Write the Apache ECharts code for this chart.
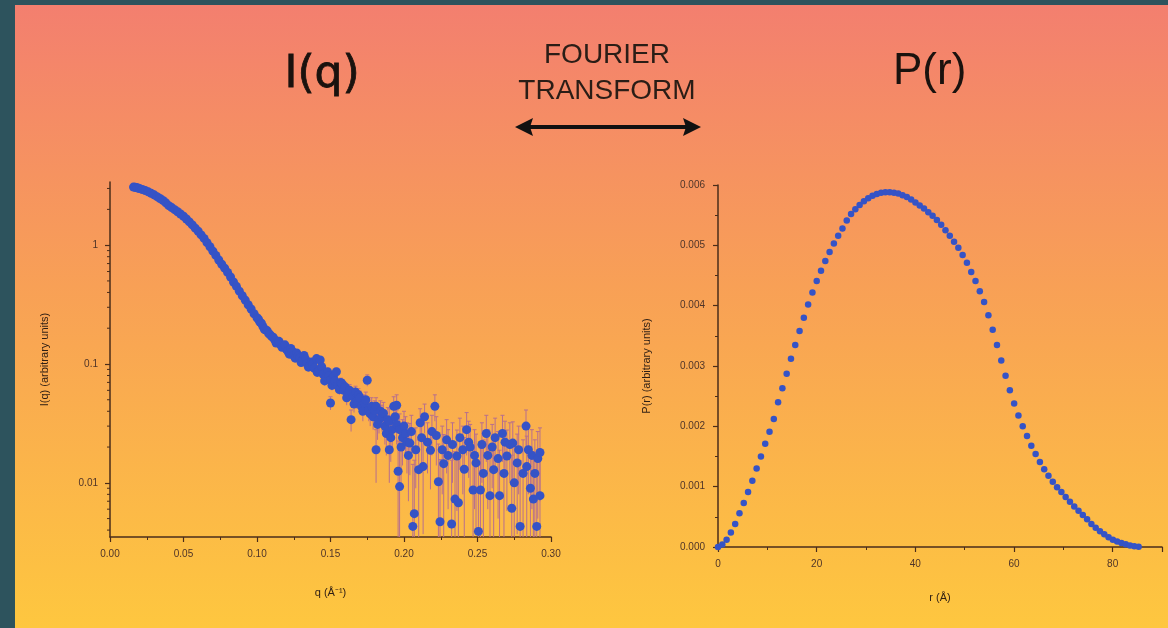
<!DOCTYPE html>
<html>
<head>
<meta charset="utf-8">
<script src="https://cdn.jsdelivr.net/npm/echarts@6/dist/echarts.min.js"></script>
<style>
html,body{margin:0;padding:0;background:#2d535d;}
#chart{width:1168px;height:628px;}
</style>
</head>
<body>
<div id="chart"></div>
<script>
// ---------- DATA ----------
// I(q): smooth low-q part [q, I]
const iqSmooth = [
[0.016,3.08],[0.017,3.07],[0.018,3.05],[0.019,3.03],[0.020,3.00],[0.022,2.94],[0.024,2.88],[0.026,2.81],[0.028,2.73],[0.030,2.65],
[0.032,2.56],[0.034,2.47],[0.036,2.38],[0.038,2.27],[0.040,2.15],[0.042,2.07],[0.044,1.99],[0.046,1.91],
[0.048,1.83],[0.050,1.75],[0.052,1.66],[0.054,1.57],[0.056,1.48],[0.058,1.39],[0.060,1.31],[0.062,1.22],
[0.064,1.14],[0.066,1.05],[0.068,0.97],[0.070,0.89],[0.072,0.82],[0.074,0.75],[0.076,0.69],[0.078,0.64],
[0.080,0.59],[0.082,0.54],[0.084,0.49],[0.086,0.45],[0.088,0.41],[0.090,0.375],[0.092,0.345],[0.094,0.315],
[0.096,0.29],[0.098,0.265],[0.100,0.245],[0.102,0.225],[0.104,0.207],[0.106,0.193],[0.108,0.18],[0.110,0.17],
[0.112,0.16],[0.114,0.152],[0.116,0.146],[0.118,0.14],[0.120,0.133]
];
// I(q): noisy high-q part [q, I, error]
const iqNoisy = [
[0.101,0.238,0.004],[0.103,0.220,0.004],[0.105,0.196,0.004],[0.107,0.190,0.004],[0.109,0.176,0.004],
[0.111,0.168,0.004],[0.113,0.150,0.004],[0.115,0.155,0.004],[0.117,0.138,0.004],[0.119,0.145,0.004],
[0.121,0.128,0.004],[0.122,0.121,0.004],[0.123,0.135,0.004],[0.124,0.128,0.004],[0.125,0.118,0.004],
[0.126,0.112,0.004],[0.127,0.124,0.004],[0.128,0.117,0.004],[0.129,0.112,0.004],[0.130,0.103,0.005],
[0.131,0.108,0.005],[0.132,0.118,0.005],[0.133,0.110,0.005],[0.134,0.101,0.005],[0.135,0.094,0.005],
[0.136,0.096,0.005],[0.137,0.104,0.005],[0.138,0.100,0.005],[0.139,0.092,0.005],[0.1405,0.111,0.005],
[0.141,0.085,0.005],[0.142,0.088,0.005],[0.143,0.108,0.005],[0.144,0.095,0.005],[0.145,0.082,0.005],
[0.146,0.072,0.006],[0.147,0.078,0.006],[0.148,0.086,0.006],[0.149,0.080,0.006],[0.150,0.073,0.006],
[0.150,0.047,0.006],[0.151,0.066,0.006],[0.152,0.078,0.006],[0.153,0.072,0.006],[0.154,0.086,0.006],
[0.155,0.066,0.006],[0.156,0.061,0.006],[0.157,0.070,0.006],[0.158,0.068,0.006],[0.159,0.060,0.006],
[0.160,0.064,0.006],[0.161,0.052,0.007],[0.162,0.056,0.007],[0.163,0.060,0.007],[0.164,0.034,0.007],
[0.1655,0.053,0.007],[0.166,0.046,0.007],[0.167,0.058,0.007],[0.168,0.049,0.007],[0.169,0.055,0.007],
[0.170,0.052,0.007],[0.171,0.044,0.007],[0.172,0.040,0.007],[0.173,0.047,0.008],[0.174,0.050,0.008],
[0.175,0.073,0.008],[0.176,0.041,0.008],[0.177,0.038,0.008],[0.178,0.044,0.008],[0.179,0.036,0.008],
[0.180,0.041,0.008],[0.181,0.044,0.008],[0.181,0.019,0.009],[0.182,0.031,0.008],[0.183,0.034,0.008],
[0.184,0.040,0.009],[0.185,0.036,0.009],[0.186,0.0385,0.009],[0.187,0.030,0.009],[0.188,0.026,0.009],
[0.189,0.034,0.009],[0.190,0.019,0.009],[0.190,0.033,0.009],[0.191,0.024,0.009],[0.192,0.028,0.009],
[0.193,0.044,0.009],[0.194,0.036,0.009],[0.195,0.045,0.010],[0.195,0.031,0.010],[0.196,0.0125,0.010],
[0.197,0.028,0.010],[0.197,0.0093,0.010],[0.198,0.020,0.010],[0.199,0.024,0.010],[0.200,0.030,0.010],
[0.201,0.026,0.010],[0.202,0.022,0.010],[0.203,0.017,0.010],[0.204,0.0216,0.010],[0.205,0.027,0.010],
[0.206,0.0043,0.010],[0.207,0.0055,0.010],[0.208,0.019,0.010],[0.210,0.0129,0.010],[0.211,0.032,0.010],
[0.212,0.024,0.010],[0.213,0.0137,0.010],[0.214,0.036,0.010],[0.216,0.022,0.010],[0.218,0.0188,0.010],
[0.219,0.027,0.010],[0.221,0.044,0.011],[0.222,0.025,0.011],[0.2234,0.0102,0.011],[0.2245,0.0047,0.011],
[0.226,0.019,0.011],[0.227,0.0145,0.011],[0.229,0.023,0.011],[0.230,0.017,0.011],[0.2324,0.0045,0.011],
[0.233,0.021,0.011],[0.2347,0.0073,0.011],[0.236,0.0168,0.011],[0.237,0.0068,0.011],[0.238,0.024,0.011],
[0.240,0.019,0.011],[0.241,0.013,0.011],[0.2426,0.028,0.011],[0.244,0.022,0.011],[0.245,0.020,0.011],
[0.247,0.0087,0.011],[0.248,0.017,0.011],[0.249,0.0147,0.011],[0.2506,0.0039,0.011],[0.252,0.0087,0.011],
[0.253,0.021,0.011],[0.254,0.012,0.011],[0.256,0.026,0.011],[0.257,0.017,0.011],[0.2585,0.0078,0.011],
[0.260,0.020,0.011],[0.261,0.0129,0.011],[0.262,0.024,0.011],[0.264,0.016,0.011],[0.265,0.0078,0.011],
[0.267,0.026,0.011],[0.268,0.012,0.011],[0.2687,0.022,0.011],[0.270,0.0168,0.011],[0.272,0.021,0.011],
[0.2733,0.0061,0.011],[0.274,0.0216,0.011],[0.275,0.010,0.011],[0.277,0.0147,0.011],[0.278,0.019,0.011],
[0.279,0.0043,0.011],[0.281,0.012,0.011],[0.283,0.030,0.011],[0.2835,0.0137,0.011],[0.2846,0.019,0.011],
[0.286,0.009,0.011],[0.287,0.017,0.011],[0.288,0.0073,0.011],[0.289,0.012,0.011],[0.2903,0.0043,0.011],
[0.291,0.016,0.011],[0.2925,0.0078,0.011],[0.2925,0.018,0.011]
];
// log-axis minor tick values (2..9 per decade)
const iqMinorTicks = [0.004,0.005,0.006,0.007,0.008,0.009,0.02,0.03,0.04,0.05,0.06,0.07,0.08,0.09,
  0.2,0.3,0.4,0.5,0.6,0.7,0.8,0.9,2,3];

// P(r)
const prR = [0,0.87,1.74,2.61,3.48,4.35,5.22,6.09,6.96,7.83,8.7,9.57,10.44,11.31,12.18,13.05,13.92,14.79,
15.66,16.53,17.4,18.27,19.14,20.01,20.88,21.75,22.62,23.49,24.36,25.23,26.1,26.97,27.84,28.71,29.58,30.45,
31.32,32.19,33.06,33.93,34.8,35.67,36.54,37.41,38.28,39.15,40.02,40.89,41.76,42.63,43.5,44.37,45.24,46.11,
46.98,47.85,48.72,49.59,50.46,51.33,52.2,53.07,53.94,54.81,55.68,56.55,57.42,58.29,59.16,60.03,60.9,61.77,
62.64,63.51,64.38,65.25,66.12,66.99,67.86,68.73,69.6,70.47,71.34,72.21,73.08,73.95,74.82,75.69,76.56,77.43,
78.3,79.17,80.04,80.91,81.78,82.65,83.52,84.39,85.26];
const prP = [0,0.00004,0.00012,0.00024,0.00038,0.00056,0.00073,0.00091,0.00110,0.00130,0.00150,0.00171,
0.00191,0.00212,0.00240,0.00263,0.00287,0.00312,0.00335,0.00358,0.00380,0.00402,0.00422,0.00441,0.00458,
0.00474,0.00489,0.00503,0.00516,0.00528,0.00541,0.00552,0.00560,0.00567,0.00573,0.00578,0.00582,0.00585,
0.00587,0.00588,0.00588,0.00587,0.00586,0.00583,0.00580,0.00576,0.00571,0.00566,0.00561,0.00555,0.00549,
0.00542,0.00534,0.00525,0.00516,0.00506,0.00496,0.00484,0.00471,0.00456,0.00441,0.00424,0.00406,0.00384,
0.00360,0.00335,0.00309,0.00284,0.00260,0.00238,0.00218,0.00200,0.00184,0.00168,0.00154,0.00141,0.00129,
0.00118,0.00108,0.00099,0.00091,0.00083,0.00075,0.00067,0.00060,0.00053,0.00046,0.00038,0.00032,0.00026,
0.00021,0.00016,0.00012,0.00009,0.000065,0.000045,0.000025,0.000012,0.000003];

// ---------- STYLE ----------
const axisColor = '#4a2c1a';
const labelColor = '#4f3428';
const nameColor = '#2e1e14';
const dotColor = '#3553c6';
const errColor = '#b86f8d';
const fontFam = '"Liberation Sans", Arial, sans-serif';
const IQ_MIN = 0.0035, IQ_MAX = 3.4;

const chart = echarts.init(document.getElementById('chart'));

function axisCommon(){
  return {
    axisLine:{show:true,onZero:false,lineStyle:{color:axisColor,width:1.5}},
    axisTick:{show:true,length:5,lineStyle:{color:axisColor,width:1.2}},
    splitLine:{show:false},
    axisLabel:{color:labelColor,fontSize:10,fontFamily:fontFam},
    nameTextStyle:{color:nameColor,fontSize:11,fontFamily:fontFam}
  };
}

const option = {
  backgroundColor:'#2d535d',
  animation:false,
  graphic:[
    {type:'rect',z:-10,silent:true,shape:{x:15,y:5,width:1153,height:623},
     style:{fill:new echarts.graphic.LinearGradient(0,0,0,1,[
       {offset:0,color:'#f37f6f'},{offset:0.45,color:'#f8a056'},{offset:1,color:'#fec73f'}])}},
    {type:'text',left:284,top:53,style:{text:'I(q)',fontSize:44,fontFamily:'"DejaVu Sans", sans-serif',fill:'#1a120e',stroke:'#1a120e',lineWidth:0.8}},
    {type:'text',left:893,top:50,style:{text:'P(r)',fontSize:44,fontFamily:fontFam,fill:'#1a120e'}},
    {type:'text',x:607,y:37,style:{text:'FOURIER\nTRANSFORM',align:'center',verticalAlign:'top',fontSize:28,lineHeight:36,fontFamily:fontFam,fill:'#2a1d16'}},
    {type:'line',shape:{x1:528,y1:127,x2:688,y2:127},style:{stroke:'#111',lineWidth:4}},
    {type:'polygon',shape:{points:[[515,127],[533,118],[530,127],[533,136]]},style:{fill:'#111'}},
    {type:'polygon',shape:{points:[[701,127],[683,118],[686,127],[683,136]]},style:{fill:'#111'}}
  ],
  grid:[
    {left:110,top:182,width:441,height:355},
    {left:718,top:185,width:444,height:362}
  ],
  xAxis:[
    Object.assign(axisCommon(),{
      gridIndex:0,type:'value',min:0,max:0.3,interval:0.05,
      name:'q (Å⁻¹)',nameLocation:'middle',nameGap:50,
      minorTick:{show:true,splitNumber:2,length:3,lineStyle:{color:axisColor,width:1}},
      axisLabel:{color:labelColor,fontSize:10,fontFamily:fontFam,margin:12,formatter:v=>v.toFixed(2)}
    }),
    Object.assign(axisCommon(),{
      gridIndex:1,type:'value',min:0,max:90,interval:20,
      name:'r (Å)',nameLocation:'middle',nameGap:45,
      minorTick:{show:true,splitNumber:2,length:3,lineStyle:{color:axisColor,width:1}},
      axisLabel:{color:labelColor,fontSize:10,fontFamily:fontFam,margin:12,showMaxLabel:false,
        formatter:v=>(v%20===0?String(v):'')}
    })
  ],
  yAxis:[
    Object.assign(axisCommon(),{
      gridIndex:0,type:'log',logBase:10,min:IQ_MIN,max:IQ_MAX,
      name:'I(q) (arbitrary units)',nameLocation:'middle',nameGap:60,nameRotate:90,
      axisLabel:{color:labelColor,fontSize:10,fontFamily:fontFam,margin:12,showMinLabel:false,showMaxLabel:false,
        formatter:v=>{const l=Math.log10(v);return Math.abs(l-Math.round(l))<1e-6?String(+v.toPrecision(1)):'';}}
    }),
    Object.assign(axisCommon(),{
      gridIndex:1,type:'value',min:0,max:0.006,interval:0.001,
      name:'P(r) (arbitrary units)',nameLocation:'middle',nameGap:66,nameRotate:90,
      minorTick:{show:true,splitNumber:2,length:3,lineStyle:{color:axisColor,width:1}},
      axisLabel:{color:labelColor,fontSize:10,fontFamily:fontFam,margin:13,formatter:v=>v.toFixed(3)}
    })
  ],
  series:[
    { // log minor ticks on I(q) axis
      type:'custom',xAxisIndex:0,yAxisIndex:0,silent:true,clip:false,z:1,
      data:iqMinorTicks.map(v=>[0,v]),
      encode:{x:0,y:1},
      renderItem:function(params,api){
        const p=api.coord([0,api.value(1)]);
        return {type:'line',shape:{x1:p[0]-3,y1:p[1],x2:p[0],y2:p[1]},style:{stroke:axisColor,lineWidth:1}};
      }
    },
    { // error bars
      type:'custom',xAxisIndex:0,yAxisIndex:0,silent:true,z:2,
      data:iqNoisy,
      encode:{x:0,y:1},
      renderItem:function(params,api){
        const q=api.value(0),v=api.value(1),e=api.value(2);
        const lo=Math.max(v-e,IQ_MIN),hi=Math.min(v+e,IQ_MAX);
        const a=api.coord([q,lo]),b=api.coord([q,hi]);
        return {type:'group',children:[
          {type:'line',shape:{x1:a[0],y1:a[1],x2:b[0],y2:b[1]},style:{stroke:errColor,lineWidth:1}},
          {type:'line',shape:{x1:b[0]-2,y1:b[1],x2:b[0]+2,y2:b[1]},style:{stroke:errColor,lineWidth:1}}
        ]};
      }
    },
    {
      type:'scatter',xAxisIndex:0,yAxisIndex:0,z:3,symbol:'circle',symbolSize:9,
      itemStyle:{color:dotColor,opacity:1},data:iqSmooth.concat(iqNoisy.map(d=>[d[0],d[1]]))
    },
    {
      type:'scatter',xAxisIndex:1,yAxisIndex:1,z:3,symbol:'circle',symbolSize:6.5,
      itemStyle:{color:dotColor,opacity:1},data:prR.map((r,i)=>[r,prP[i]])
    }
  ]
};
chart.setOption(option);
</script>
</body>
</html>
